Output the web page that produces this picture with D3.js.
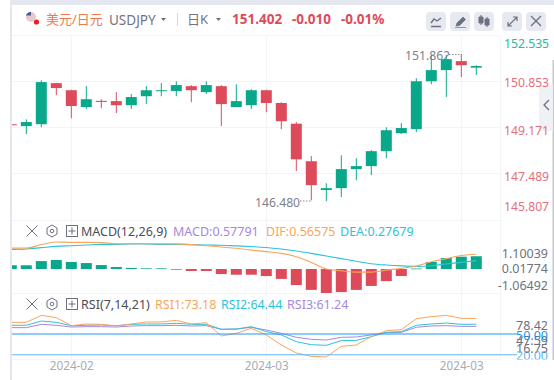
<!DOCTYPE html>
<html><head><meta charset="utf-8">
<style>html,body{margin:0;padding:0;background:#fff;overflow:hidden}svg{display:block;font-family:"Noto Sans","Noto Sans CJK SC",sans-serif}</style>
<script src="https://cdn.jsdelivr.net/npm/d3@7"></script></head><body>
<script>
const open_=[149.28,149.21,149.28,150.79,150.53,149.91,150.14,150.13,149.98,150.31,150.50,150.50,150.68,150.46,150.68,149.91,149.98,150.53,150.06,149.30,147.92,146.86,146.93,147.63,147.74,148.29,148.95,149.10,150.86,151.27,151.60,151.36];
const close_=[149.26,149.36,150.83,150.61,149.95,150.20,150.10,149.98,150.28,150.53,150.53,150.72,150.53,150.72,150.02,150.13,150.53,150.06,149.39,147.99,147.04,146.93,147.63,147.74,148.29,149.06,149.14,150.86,151.27,151.67,151.45,151.42];
const high_=[149.28,149.46,150.90,150.79,150.55,150.68,150.20,150.46,150.39,150.68,150.79,150.86,150.72,150.86,150.72,150.75,150.57,150.55,150.09,149.36,148.11,147.11,148.14,148.03,148.33,149.17,149.32,150.97,151.82,151.82,151.86,151.45];
const low_=[149.26,148.92,149.17,150.35,149.50,149.84,149.87,149.69,149.84,150.02,150.31,150.31,150.09,150.39,149.21,149.91,149.84,149.72,149.10,147.56,146.48,146.45,146.60,147.22,147.41,148.03,148.92,148.99,150.75,150.28,151.01,151.09];
const priceTicks=[152.535,150.853,149.171,147.489,145.807];
const macdBar=[.17,.17,.36,.41,.32,.27,.18,.09,.05,.03,.03,-.03,-.09,-.09,-.23,-.26,-.26,-.32,-.45,-.73,-.95,-1.09,-1.05,-.95,-.77,-.55,-.32,.02,.32,.50,.56,.58];
const difLine=[.95,.95,1.11,1.23,1.21,1.21,1.20,1.15,1.15,1.15,1.15,1.14,1.11,1.06,1.00,.94,.86,.79,.71,.56,.30,0,-.08,-.14,-.14,-.05,.03,.14,.33,.47,.61,.67];
const deaLine=[.89,.91,.97,1.03,1.06,1.09,1.12,1.12,1.14,1.14,1.12,1.12,1.11,1.09,1.08,1.05,1.02,.98,.91,.82,.71,.59,.47,.35,.24,.18,.14,.12,.15,.23,.30,.38];
const macdTicks=[1.10039,0.01774,-1.06492];
const macdTickLabels=["1.10039","0.01774","-1.06492"];
const rsi1=[66.9,66.9,77.0,73.7,62.1,64.5,64.0,61.6,64.5,67.4,67.4,69.8,64.5,66.4,47.1,51.0,58.2,48.6,34.1,22.5,17.6,16.7,32.1,34.1,46.1,54.8,56.3,72.2,75.1,77.0,72.7,72.4];
const rsi2=[62.6,62.6,68.8,66.9,62.1,62.6,63.0,62.1,64.0,64.5,64.5,65.5,64.0,64.0,56.8,57.2,60.6,53.4,48.6,38.9,34.5,33.6,40.3,40.8,46.1,52.4,53.4,62.6,64.5,65.9,64.0,64.2];
const rsi3=[59.2,59.2,64.0,62.6,60.1,60.6,60.6,60.1,61.6,62.1,62.1,62.6,61.6,62.1,56.8,57.2,59.7,55.8,51.0,45.2,42.3,41.3,45.2,45.7,48.6,51.9,52.4,59.7,61.6,62.1,61.1,61.0];
const rsiLevels=[50,20];
const rsiTicks=["78.42","47.59","16.75"];
const rsiTickValues=[63,41.3,28.3];
const dateIdx=[4,17,30];
const dateLabels=["2024-02","2024-03","2024-03"];

const GREEN="#0aa88a",RED="#dd4b5b",GRID="#f3f4f8",ORANGE="#f9a55b",CYAN="#2cc3dc",PURPLE="#a588e0";
const W=554,H=380;
const svg=d3.select("body").append("svg").attr("width",W).attr("height",H);
const defs=svg.append("defs");
defs.append("clipPath").attr("id","plot").append("rect").attr("x",12).attr("y",36).attr("width",488).attr("height",330);
defs.append("clipPath").attr("id","rsiAxis").append("rect").attr("x",500).attr("y",294).attr("width",54).attr("height",65.5);

const x=d3.scaleLinear().domain([0,31]).range([11.3,476.3]);
const y=d3.scaleLinear().domain([145.807,152.535]).range([218.7,35.7]);
const ym=d3.scaleLinear().domain([-1.2,1.3]).range([295.4,240.4]);
const ymLabel=d3.scaleLinear().domain([-1.06492,1.10039]).range([285,253]);
const yr=d3.scaleLinear().domain([20,50]).range([354.7,334]);

// frame
svg.append("rect").attr("x",10).attr("y",0).attr("width",544).attr("height",5).attr("fill","#e4e7f0");
svg.append("rect").attr("x",10).attr("y",0).attr("width",2).attr("height",H).attr("fill","#e4e7f0");
svg.append("rect").attr("x",552.5).attr("y",60).attr("width",1.5).attr("height",300).attr("fill","#c9c9c9");

// side tab (behind the axis labels)
svg.append("rect").attr("x",539).attr("y",85).attr("width",14).attr("height",46).attr("fill","#f0f1f5");

// grid
const grid=svg.append("g").attr("stroke",GRID).attr("stroke-width",1).attr("shape-rendering","crispEdges");
[35.5,81.5,127.5,173.5,220.5,293.5,359.5].forEach(v=>grid.append("line").attr("x1",12).attr("x2",500).attr("y1",v).attr("y2",v));
grid.selectAll(".v").data(dateIdx).join("line").attr("x1",d=>Math.round(x(d))+.5).attr("x2",d=>Math.round(x(d))+.5).attr("y1",36).attr("y2",359);
grid.append("line").attr("x1",500.5).attr("x2",500.5).attr("y1",36).attr("y2",359);

const plot=svg.append("g").attr("clip-path","url(#plot)");
// candles
const cg=plot.selectAll(".c").data(d3.range(open_.length)).join("g");
const col=i=>close_[i]>=open_[i]?GREEN:RED;
cg.append("line").attr("x1",i=>x(i)).attr("x2",i=>x(i)).attr("y1",i=>y(high_[i])).attr("y2",i=>y(low_[i])).attr("stroke",col).attr("stroke-width",1);
cg.append("rect").attr("x",i=>x(i)-5.5).attr("width",11).attr("y",i=>y(Math.max(open_[i],close_[i]))).attr("height",i=>Math.max(1,Math.abs(y(open_[i])-y(close_[i])))).attr("fill",col);

// MACD
plot.selectAll(".h").data(macdBar).join("rect").attr("x",(d,i)=>x(i)-5.5).attr("width",11)
 .attr("y",d=>Math.min(ym(d),ym(0))).attr("height",d=>Math.max(.7,Math.abs(ym(d)-ym(0)))).attr("fill",d=>d>=0?GREEN:RED);
const line=(sc)=>d3.line().x((d,i)=>x(i)).y(d=>sc(d));
plot.append("path").attr("d",line(ym).curve(d3.curveMonotoneX)(deaLine)).attr("fill","none").attr("stroke",CYAN).attr("stroke-width",1.1);
plot.append("path").attr("d",line(ym).curve(d3.curveMonotoneX)(difLine)).attr("fill","none").attr("stroke",ORANGE).attr("stroke-width",1.1);

// RSI
[[rsi3,PURPLE],[rsi2,CYAN],[rsi1,ORANGE]].forEach(([s,c])=>plot.append("path").attr("d",line(yr)(s)).attr("fill","none").attr("stroke",c).attr("stroke-width",1));
svg.selectAll(".lv").data(rsiLevels).join("line").attr("x1",12).attr("x2",517).attr("y1",d=>yr(d)).attr("y2",d=>yr(d))
  .attr("stroke",(d,i)=>i?"#64b5f6":"#2196f3").attr("stroke-width",1.1);

// price axis
const ax=svg.append("g").attr("transform","translate(504,0)").call(d3.axisRight(y).tickValues(priceTicks).tickSize(0).tickPadding(0).tickFormat(d3.format(".3f")));
ax.select(".domain").remove();
ax.selectAll("text").attr("font-size",12.2).attr("font-family",'"Noto Sans",sans-serif')
  .attr("fill",d=>d===152.535?"#2fb79b":"#e4707e")
  .attr("dy",d=>d===152.535?"0.32em":d===145.807?"-8.1":"0.4em")
  .attr("y",d=>d===152.535?7.5:d===149.171?2:d===147.489?2.5:0);

// date axis
const ad=svg.append("g").attr("transform","translate(0,359)").call(d3.axisBottom(x).tickValues(dateIdx).tickSize(0).tickPadding(3).tickFormat((d,i)=>dateLabels[i]));
ad.select(".domain").remove();
ad.selectAll("text").attr("font-size",11.7).attr("font-family",'"Noto Sans",sans-serif').attr("fill","#a9abb3");

// labels helper
const txt=(xx,yy,s,c,fs,o={},par=svg)=>par.append("text").attr("x",xx).attr("y",yy).attr("fill",c).attr("font-size",fs).attr("text-anchor",o.a||"start").attr("font-weight",o.b?700:400).text(s);

// hi / lo marks
txt(405,60,"151.862","#7d808a",12.2);
svg.append("line").attr("x1",449).attr("x2",461).attr("y1",54.5).attr("y2",54.5).attr("stroke","#8a8d96").attr("stroke-dasharray","1.5 1.5");
txt(255,206.5,"146.480","#7d808a",12.2);
svg.append("line").attr("x1",300).attr("x2",312).attr("y1",201).attr("y2",201).attr("stroke","#8a8d96").attr("stroke-dasharray","1.5 1.5");

// MACD axis labels
macdTicks.forEach((t,i)=>txt(548,ymLabel(t)+4.5,macdTickLabels[i],"#70737d",12.5,{a:"end"}));
// RSI axis labels
const rax=svg.append("g").attr("clip-path","url(#rsiAxis)");
rsiTicks.forEach((t,i)=>txt(548,yr(rsiTickValues[i])+4.5,t,"#6d7079",12.5,{a:"end"},rax));
rsiLevels.forEach(l=>txt(548,yr(l)+5.5,l.toFixed(2),l===50?"#2196f3":"#64b5f6",12.5,{a:"end"},rax));

// header
const G="#6c7080";
const fl=svg.append("g");
fl.append("circle").attr("cx",31).attr("cy",17).attr("r",5).attr("fill","#e7c9cc");
fl.append("path").attr("d","M26,15.5a5,5 0 0 1 5,-3.5v3.5z").attr("fill","#4a5a8a");
fl.append("circle").attr("cx",36.5).attr("cy",22).attr("r",2.6).attr("fill","#e81c24");
txt(46,24,"美元/日元","#f4764a",13);
txt(109,25,"USDJPY","#71747f",13.5);
svg.append("path").attr("d","M161,18l5,0l-2.5,3z").attr("fill",G);
svg.append("line").attr("x1",177.5).attr("x2",177.5).attr("y1",13).attr("y2",26).attr("stroke","#d6d8df");
txt(187,24,"日K","#71747f",13);
svg.append("path").attr("d","M216,18l5,0l-2.5,3z").attr("fill",G);
txt(232,24,"151.402",RED,13.5,{b:1});
txt(292,24,"-0.010",RED,13.5,{b:1});
txt(341,24,"-0.01%",RED,13.5,{b:1});

// buttons
[426,450,474,502,526].forEach(v=>svg.append("rect").attr("x",v).attr("y",12).attr("width",20).attr("height",19).attr("rx",4).attr("fill","#e7e9f0"));
svg.append("path").attr("d","M431,23l3,-4l3,2l4,-3M431,26.5h10").attr("fill","none").attr("stroke",G).attr("stroke-width",1.4);
svg.append("path").attr("d","M456,26l1,-3l6,-6l2.5,2.5l-6,6zM455,27.5h11").attr("fill",G).attr("stroke",G).attr("stroke-width",.7);
svg.append("path").attr("d","M479,17h4v6h-4zM481,15v10M485,19h4v6h-4zM487,17v10").attr("fill",G).attr("stroke",G);
svg.append("path").attr("d","M508,26l9,-9M513,17h4v4M512,26h-4v-4").attr("fill","none").attr("stroke",G).attr("stroke-width",1.2);
svg.append("path").attr("d","M531,16l10,10M541,16l-10,10").attr("stroke",G).attr("stroke-width",1.3);
svg.append("path").attr("d","M549,100l-5,5l5,5").attr("fill","none").attr("stroke",G).attr("stroke-width",1.3);

// indicator rows
function icons(cy){
 svg.append("path").attr("d",`M26.5,${cy-5.5}l11,11M37.5,${cy-5.5}l-11,11`).attr("stroke",G).attr("stroke-width",1);
 svg.append("path").attr("d",`M52,${cy-6}l5,3v6l-5,3l-5,-3v-6z`).attr("fill","none").attr("stroke",G);
 svg.append("circle").attr("cx",52).attr("cy",cy).attr("r",1.8).attr("fill","none").attr("stroke",G);
 svg.append("rect").attr("x",66.5).attr("y",cy-5.5).attr("width",11).attr("height",11).attr("fill","none").attr("stroke",G);
 svg.append("path").attr("d",`M72,${cy-3.5}v7M68.5,${cy}h7`).attr("stroke",G);
}
icons(231); icons(304);
txt(81,235.5,"MACD(12,26,9)","#4a4d57",12.5);
txt(173,235.5,"MACD:0.57791",PURPLE,12.5);
txt(266,235.5,"DIF:0.56575",ORANGE,12.5);
txt(340,235.5,"DEA:0.27679",CYAN,12.5);
txt(81,308.5,"RSI(7,14,21)","#4a4d57",12.5);
txt(155,308.5,"RSI1:73.18",ORANGE,12.5);
txt(221,308.5,"RSI2:64.44",CYAN,12.5);
txt(287,308.5,"RSI3:61.24",PURPLE,12.5);
</script></body></html>
